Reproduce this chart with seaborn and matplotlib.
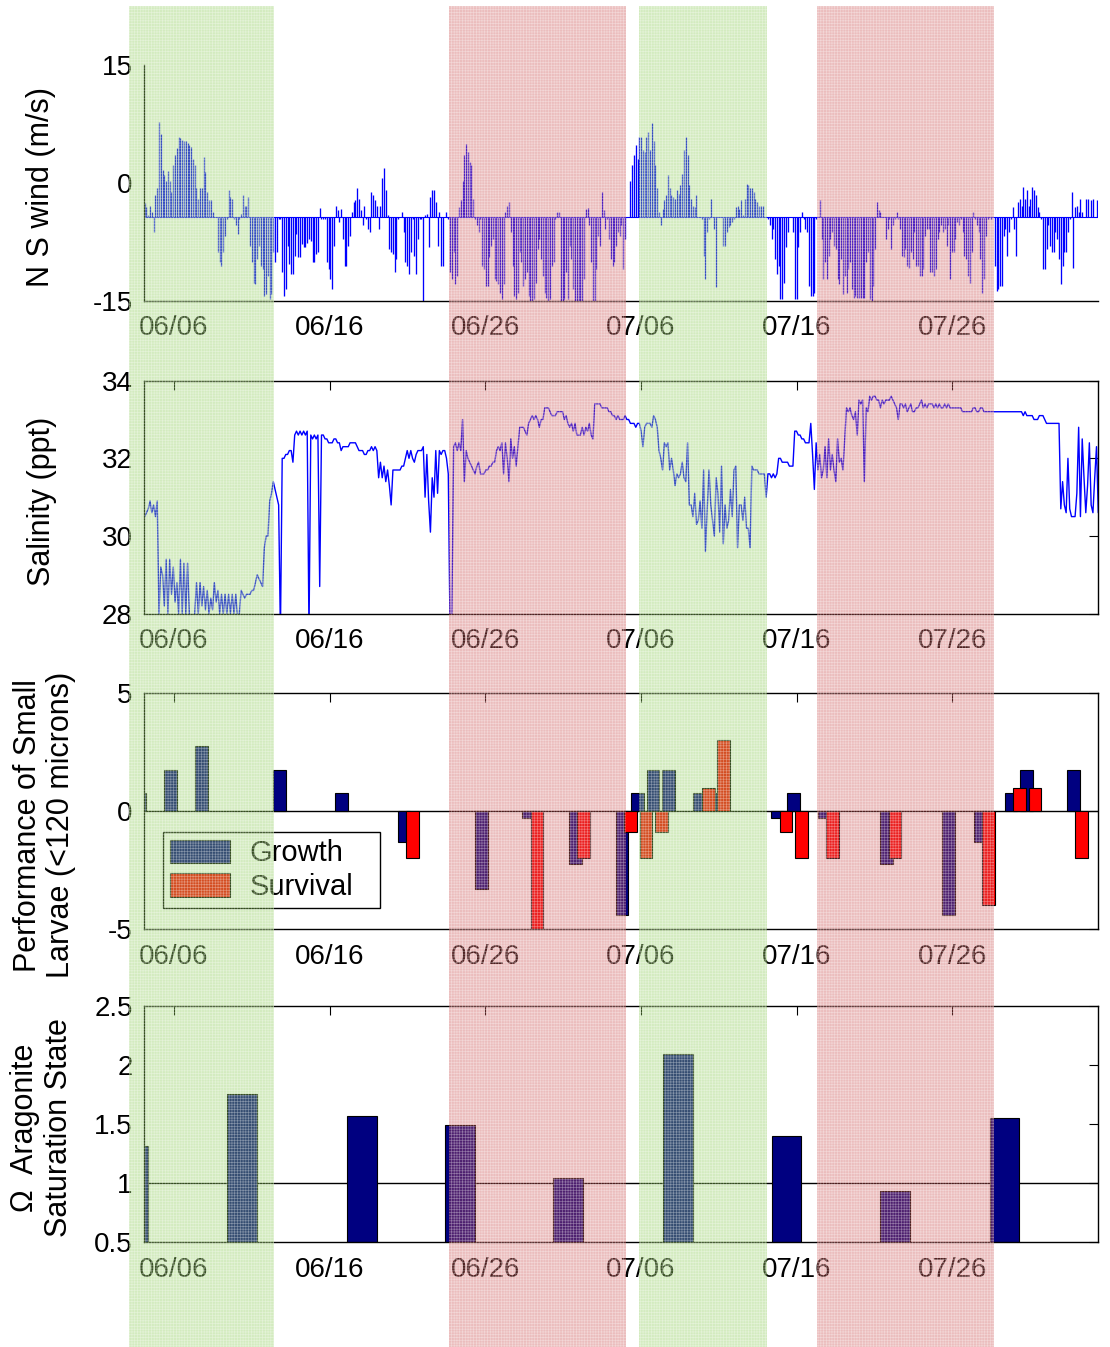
import numpy as np
import pandas as pd
import matplotlib
matplotlib.use("Agg")
import matplotlib.pyplot as plt
import matplotlib.dates as mdates
from matplotlib.patches import Rectangle
from matplotlib.transforms import blended_transform_factory
from matplotlib.legend_handler import HandlerPatch
import seaborn as sns

sns.set_theme(style="white")
plt.rcParams["font.family"] = ["Liberation Sans", "DejaVu Sans"]
plt.rcParams["axes.unicode_minus"] = False
plt.rcParams["hatch.linewidth"] = 0.45

# ---------------------------------------------------------------- data
# North-south wind (m/s), regular samples over the record
wind_ms = [
    -2.6, -3.1, -4.1, -2.9, -3.7, -6.3, -1.6, -0.7, 7.8, 6.2,
    1.7, 1.0, 0.3, 1.5, 0.3, -1.2, 2.3, 3.6, 4.5, 5.9,
    5.7, 5.5, 5.4, 5.3, 5.1, 4.8, 4.6, 3.1, 2.3, -0.7,
    -2.0, -0.6, -0.7, 3.3, 1.4, -1.1, -2.2, -2.2, -3.7, -4.3,
    -4.3, -8.8, -10.1, -10.6, -8.8, -6.7, -4.6, -0.9, -1.8, -2.0,
    -4.6, -5.4, -6.5, -4.6, -3.9, -1.6, -2.9, -2.9, -1.8, -8.0,
    -10.1, -12.7, -12.9, -9.7, -8.0, -10.6, -11.0, -14.4, -14.2, -11.8,
    -14.8, -14.2, -8.8, -10.1, -8.8, -4.6, -4.6, -11.4, -14.4, -13.5,
    -8.0, -10.3, -11.6, -11.6, -9.3, -6.5, -9.5, -9.5, -7.8, -8.2,
    -8.2, -7.6, -7.1, -7.4, -10.1, -10.1, -9.1, -8.8, -3.2, -4.6,
    -4.6, -4.6, -10.1, -11.0, -12.3, -13.5, -8.0, -2.9, -3.5, -5.0,
    -3.3, -7.1, -10.6, -10.6, -8.0, -6.7, -3.7, -2.4, -2.2, -0.7,
    -2.0, -3.5, -5.4, -2.9, -4.6, -5.9, -6.3, -1.1, -1.6, -2.2,
    -2.9, -5.9, -2.9, 0.6, 1.9, -0.9, -4.1, -8.4, -8.8, -9.1,
    -11.4, -9.7, -4.6, -4.4, -3.7, -6.3, -10.1, -10.6, -11.6, -8.8,
    -4.6, -9.3, -11.6, -7.1, -4.6, -4.6, -15.0, -4.1, -3.9, -8.2,
    -1.8, -0.9, -0.9, -2.4, -8.0, -3.7, -10.6, -10.6, -4.4, -3.7,
    -4.6, -11.4, -12.3, -8.8, -12.9, -11.8, -3.1, -2.2, 0.3, 3.5,
    5.0, 3.9, 2.7, 2.3, -2.0, -4.6, -5.4, -6.3, -4.6, -10.6,
    -11.0, -13.1, -13.1, -9.5, -8.0, -7.1, -12.3, -12.5, -12.9, -14.0,
    -14.8, -12.9, -3.7, -2.9, -2.4, -6.3, -10.6, -14.4, -14.8, -14.0,
    -8.8, -10.1, -13.1, -12.3, -11.4, -14.4, -15.0, -15.0, -14.8, -12.7,
    -8.4, -7.1, -9.7, -11.8, -14.0, -14.6, -15.0, -14.8, -10.6, -10.1,
    -4.6, -3.7, -3.7,
    -15.0, -15.0, -14.8, -11.4, -14.8, -8.0, -9.7, -13.5, -15.0, -15.0,
    -15.0, -15.0, -15.0, -12.3, -3.3, -3.2, -5.4, -10.1, -15.0, -15.0,
    -11.0, -6.7, -8.0, -1.2, -3.5, -5.9, -4.6, -7.1, -9.7, -10.6,
    -10.1, -8.0, -6.3, -6.7, -5.4, -11.0, -7.1, -4.4, -4.4, 0.3,
    2.3, 3.5, 4.8, 3.1, 5.9, 5.9, 4.2, 4.0, 5.9, 6.5,
    4.2, 7.6, 5.3, 2.3, -0.7, -3.7, -5.4, -3.3, -2.2, -1.6,
    1.0, -0.7, -1.6, -1.8, -2.0, -0.9, -1.4, -0.3, 1.2, 4.2,
    5.9, 3.5, -0.3, -2.0, -2.9, -3.1, -1.5, -4.4, -4.4, -4.6,
    -9.3, -12.3, -6.3, -4.6, -2.0, -4.4, -5.9, -13.3, -4.4, -4.4,
    -4.4, -8.0, -8.0, -6.3, -5.6, -5.4, -5.0, -4.6, -3.1, -2.9,
    -3.3, -2.2, -4.1, -2.0, -0.1, -0.3, -0.7, -0.7, -1.2, -2.0,
    -2.4, -2.9, -2.9, -2.9, -4.4, -4.4, -4.6, -5.4, -7.1, -5.9,
    -9.7, -11.6, -10.6, -14.8, -14.8, -12.7, -8.2, -6.3, -4.4, -4.4,
    -6.3, -14.8, -14.8, -8.2, -6.3, -3.7, -4.6, -5.9, -6.3, -13.1,
    -14.4, -14.4, -14.0, -4.6, -4.4, -2.2, -7.1, -12.3, -10.1, -12.3,
    -9.3, -7.1, -6.3, -8.0, -8.4, -12.3, -12.9, -9.7, -14.2, -11.8,
    -14.0, -11.0, -10.1, -13.5, -14.6, -14.4, -14.6, -14.6, -14.6, -14.6,
    -14.6, -10.1, -8.8, -14.8, -15.0, -13.1, -8.4, -2.4, -3.5, -3.7,
    -4.4, -4.4, -7.1, -5.9, -4.6, -8.4, -5.4, -4.6, -3.7, -4.6,
    -5.9, -9.3, -9.5, -8.4, -10.6, -10.8, -8.8, -9.7, -6.3, -10.6,
    -10.6, -11.8, -11.8, -11.0, -6.7, -5.9, -5.9, -11.4, -11.4, -11.8,
    -11.0, -7.1, -6.3, -5.4, -6.3, -5.9, -8.0, -5.4, -12.3, -8.8,
    -8.8, -7.1, -5.0, -5.4, -4.6, -6.3, -9.3, -9.7, -11.8, -12.7,
    -8.8, -3.7, -4.6, -5.4, -6.3, -9.7, -14.0, -12.3, -6.7, -4.6,
    -4.4, -4.6, -4.4, -10.6, -13.8, -13.5, -13.1, -13.1, -6.7, -5.9,
    -9.3, -6.3, -4.6, -3.1, -5.9, -9.3, -2.4, -2.0, -2.9, -0.5,
    -2.0, -0.9, -2.9, -2.0, -0.5, -0.9, -1.6, -3.1, -3.7, -4.6,
    -11.0, -11.0, -8.4, -5.4, -8.0, -8.8, -8.8, -6.3, -7.1, -9.7,
    -12.9, -10.6, -8.8, -8.8, -6.3, -4.6, -1.2, -10.8, -3.1, -2.9,
    -3.7, -2.0, -3.7, -4.4, -2.0, -2.0, -4.4, -2.2, -2.0, -4.4,
    -2.2, -4.4,
]

# Salinity (ppt) on the same sampling grid
salinity_ppt = [
    30.5, 30.6, 30.7, 30.9, 30.6, 30.8, 30.5, 30.9, 28.0, 29.2,
    29.0, 28.2, 29.4, 28.0, 29.4, 28.5, 29.2, 28.3, 28.8, 28.0,
    29.4, 28.0, 29.3, 28.0, 29.3, 28.0, 27.8, 27.8, 28.0, 28.8,
    28.0, 28.8, 28.2, 28.7, 28.1, 28.6, 28.0, 28.4, 28.1, 28.8,
    28.3, 28.6, 28.0, 28.5, 28.0, 28.5, 28.0, 28.5, 28.0, 28.5,
    28.0, 28.5, 27.9, 28.0, 28.6, 28.5, 28.4, 28.5, 28.5, 28.5,
    28.6, 28.6, 28.8, 29.0, 28.9, 28.8, 28.7, 29.7, 30.0, 30.0,
    30.9, 31.1, 31.4, 31.2, 31.0, 30.8, 27.5, 32.0, 32.0, 32.1,
    32.1, 32.2, 32.2, 31.9, 32.6, 32.7, 32.6, 32.7, 32.6, 32.7,
    32.6, 32.7, 27.5, 32.6, 32.5, 32.6, 32.5, 32.6, 28.7, 32.6,
    32.6, 32.5, 32.5, 32.4, 32.4, 32.4, 32.5, 32.5, 32.4, 32.4,
    32.2, 32.3, 32.3, 32.3, 32.3, 32.4, 32.4, 32.4, 32.4, 32.3,
    32.2, 32.2, 32.2, 32.1, 32.1, 32.2, 32.2, 32.3, 32.2, 32.3,
    32.2, 31.5, 31.9, 31.5, 31.8, 31.4, 31.7, 31.3, 30.8, 31.7,
    31.7, 31.7, 31.7, 31.7, 31.8, 31.8, 32.0, 32.2, 32.0, 32.2,
    32.0, 31.9, 32.1, 32.2, 32.2, 32.2, 32.3, 31.0, 32.1, 30.9,
    30.1, 31.5, 31.0, 32.2, 31.1, 32.2, 32.1, 32.2, 32.2, 32.0,
    31.6, 27.5, 28.0, 32.3, 32.4, 32.2, 32.4, 32.2, 33.0, 31.4,
    32.2, 32.0, 31.9, 31.8, 31.7, 31.6, 31.8, 31.9, 31.6, 31.6,
    31.6, 31.7, 31.7, 31.8, 31.8, 31.9, 31.9, 32.2, 32.3, 32.2,
    32.4, 31.6, 32.4, 32.0, 31.4, 32.5, 32.0, 32.3, 31.8, 32.3,
    32.8, 32.8, 32.8, 32.7, 32.6, 32.9, 33.0, 33.1, 33.0, 33.1,
    33.0, 32.8, 33.0, 33.0, 33.3, 33.3, 33.3, 33.2, 33.1, 33.1,
    33.1, 33.2, 33.2,
    33.2, 33.2, 33.0, 33.1, 32.9, 32.8, 32.9, 32.7, 32.9, 32.6,
    32.6, 32.6, 32.8, 32.6, 32.8, 32.7, 32.9, 32.6, 32.5, 33.4,
    33.4, 33.4, 33.4, 33.3, 33.3, 33.3, 33.3, 33.2, 33.2, 33.1,
    33.1, 33.0, 33.1, 33.0, 33.0, 33.0, 33.1, 33.0, 33.0, 32.9,
    32.9, 32.9, 32.8, 32.9, 32.9, 32.7, 32.3, 32.8, 32.9, 32.9,
    32.9, 32.8, 33.1, 33.0, 32.8, 32.2, 32.0, 31.7, 32.4, 32.3,
    32.4, 31.7, 32.0, 31.7, 31.3, 31.6, 31.5, 31.6, 31.9, 31.5,
    31.4, 32.4, 30.8, 30.8, 30.5, 31.1, 30.3, 30.4, 30.9, 30.2,
    31.7, 29.6, 30.7, 31.7, 30.8, 30.4, 30.0, 31.5, 31.1, 30.1,
    31.8, 29.8, 30.8, 30.2, 30.4, 31.2, 30.5, 31.7, 31.8, 29.7,
    30.8, 30.8, 30.4, 31.0, 30.2, 30.2, 29.7, 31.8, 31.7, 31.7,
    31.7, 31.6, 31.6, 31.6, 31.6, 31.0, 31.6, 31.6, 31.5, 31.6,
    31.5, 31.6, 32.0, 32.0, 31.9, 31.9, 31.9, 31.9, 31.8, 31.8,
    31.8, 32.7, 32.7, 32.6, 32.6, 32.5, 32.5, 32.4, 32.4, 32.4,
    32.9, 32.1, 31.2, 32.4, 31.7, 32.1, 31.5, 31.7, 32.3, 31.5,
    32.5, 31.7, 32.1, 31.7, 31.4, 32.5, 31.9, 32.0, 31.7, 32.5,
    33.3, 33.2, 33.3, 33.1, 33.0, 33.2, 32.6, 33.5, 33.4, 33.5,
    31.4, 33.3, 33.2, 33.6, 33.5, 33.6, 33.6, 33.5, 33.5, 33.3,
    33.5, 33.4, 33.5, 33.5, 33.5, 33.6, 33.5, 33.4, 33.3, 33.0,
    33.4, 33.4, 33.3, 33.4, 33.2, 33.3, 33.4, 33.2, 33.2, 33.3,
    33.3, 33.4, 33.5, 33.3, 33.4, 33.3, 33.4, 33.4, 33.4, 33.3,
    33.4, 33.3, 33.4, 33.3, 33.3, 33.4, 33.3, 33.4, 33.3, 33.3,
    33.3, 33.3, 33.3, 33.3, 33.3, 33.2, 33.2, 33.2, 33.2, 33.2,
    33.2, 33.3, 33.3, 33.2, 33.2, 33.3, 33.3, 33.2, 33.2, 33.2,
    33.2, 33.2, 33.2, 33.2, 33.2, 33.2, 33.2, 33.2, 33.2, 33.2,
    33.2, 33.2, 33.2, 33.2, 33.2, 33.2, 33.2, 33.2, 33.2, 33.1,
    33.2, 33.1, 33.1, 33.1, 33.1, 33.0, 33.0, 33.0, 33.1, 33.1,
    33.1, 33.0, 32.9, 32.9, 32.9, 32.9, 32.9, 32.9, 32.9, 32.9,
    30.7, 31.4, 30.8, 30.6, 32.0, 30.7, 30.5, 30.5, 30.5, 31.1,
    32.8, 30.5, 32.5, 31.5, 30.6, 31.3, 32.4, 30.8, 30.6, 31.5,
    32.3, 30.6,
]

record_start = "2011-06-04 02:44"
record_end = "2011-08-04 09:00"

# Larval performance experiments (daily samples)
perf_dates = [
    "2011-06-04 01:00", "2011-06-06 01:00", "2011-06-08 01:00", "2011-06-13 01:00",
    "2011-06-17 01:00", "2011-06-21 01:00", "2011-06-26 01:00", "2011-06-29 01:00",
    "2011-07-02 01:00", "2011-07-05 01:00", "2011-07-06 01:00", "2011-07-07 01:00",
    "2011-07-08 01:00", "2011-07-10 01:00", "2011-07-11 01:00", "2011-07-15 01:00",
    "2011-07-16 01:00", "2011-07-18 01:00", "2011-07-22 01:00", "2011-07-26 01:00",
    "2011-07-28 01:00", "2011-07-30 01:00", "2011-07-31 01:00", "2011-08-03 01:00",
]
growth = [
    0.75, 1.75, 2.75, 1.75, 0.75, -1.3, -3.3, -0.3,
    -2.25, -4.4, 0.75, 1.75, 1.75, 0.75, 0.75, -0.3,
    0.75, -0.3, -2.25, -4.4, -1.3, 0.75, 1.75, 1.75,
]
survival = [
    np.nan, np.nan, np.nan, np.nan, np.nan, -2.0, np.nan, -5.0,
    -2.0, -0.9, -2.0, -0.9, np.nan, 1.0, 3.0, -0.9,
    -2.0, -2.0, -2.0, np.nan, -4.0, 1.0, 1.0, -2.0,
]

# Weekly aragonite saturation state
omega_dates = [
    "2011-06-03 09:30", "2011-06-10 09:00", "2011-06-18 02:00",
    "2011-06-24 09:00", "2011-07-01 07:00", "2011-07-08 09:00",
    "2011-07-15 08:30", "2011-07-22 07:30", "2011-07-29 08:30",
]
omega_arag = [1.31, 1.75, 1.565, 1.49, 1.04, 2.09, 1.40, 0.93, 1.55]

# Upwelling (green) and relaxation (red) periods
period_start = ["2011-06-03 02:40", "2011-06-23 16:00", "2011-07-05 21:00", "2011-07-17 08:00"]
period_end = ["2011-06-12 10:00", "2011-07-05 01:00", "2011-07-14 02:00", "2011-07-28 16:20"]
period_kind = ["upwelling", "relaxation", "upwelling", "relaxation"]

tick_dates = ["2011-06-06", "2011-06-16", "2011-06-26", "2011-07-06", "2011-07-16", "2011-07-26"]

# ---------------------------------------------------------------- styling
LINE_BLUE = "#0000ff"
NAVY = "#000080"
RED = "#ff0000"
WIND_BASE = -4.3
PAIR_OFFSET = 0.27      # days between growth / survival bar centres and the sample time
PERF_W = 0.82
OMEGA_W = 1.9
SHADE = {"upwelling": (0.55, 0.80, 0.35), "relaxation": (0.80, 0.32, 0.32)}

def to_num(values):
    return mdates.date2num(pd.to_datetime(values))

wind_x = to_num(pd.date_range(record_start, record_end, periods=len(wind_ms)))
sal_x = to_num(pd.date_range(record_start, record_end, periods=len(salinity_ppt)))
perf_x = to_num(perf_dates)
omega_x = to_num(omega_dates)
growth = np.array(growth)
survival = np.array(survival)
xlim = to_num(["2011-06-04 01:15", "2011-08-04 09:05"])

fig = plt.figure(figsize=(11.10, 13.47), dpi=100)
L, W = 0.1295, 0.860
ax_wind = fig.add_axes([L, 0.7768, W, 0.1748])
ax_sal = fig.add_axes([L, 0.5444, W, 0.1730])
ax_perf = fig.add_axes([L, 0.3103, W, 0.1750])
ax_omega = fig.add_axes([L, 0.0780, W, 0.1752])

# wind stick plot
ax_wind.vlines(wind_x, WIND_BASE, wind_ms, colors=LINE_BLUE, linewidth=0.95)
ax_wind.hlines(WIND_BASE, wind_x[0], wind_x[-1], colors=LINE_BLUE, linewidth=0.8)
ax_wind.set_ylim(-15, 15)
ax_wind.set_yticks([-15, 0, 15])

# salinity trace
sns.lineplot(x=sal_x, y=salinity_ppt, ax=ax_sal, color=LINE_BLUE, linewidth=1.0,
             estimator=None, sort=False)
ax_sal.set_ylim(28, 34)
ax_sal.set_yticks([28, 30, 32, 34])

# grouped growth / survival bars
g_bars = ax_perf.bar(perf_x - PAIR_OFFSET, growth, width=PERF_W, color=NAVY,
                     edgecolor="black", linewidth=0.8, label="Growth")
has_surv = ~np.isnan(survival)
s_bars = ax_perf.bar(perf_x[has_surv] + PAIR_OFFSET, survival[has_surv], width=PERF_W,
                     color=RED, edgecolor="black", linewidth=0.8, label="Survival")
ax_perf.axhline(0, color="black", linewidth=1.0, zorder=0.5)
ax_perf.set_ylim(-5, 5)
ax_perf.set_yticks([-5, 0, 5])

# aragonite saturation
ax_omega.bar(omega_x, omega_arag, width=OMEGA_W, color=NAVY, edgecolor="black", linewidth=0.8)
ax_omega.axhline(1, color="black", linewidth=1.0, zorder=0.5)
ax_omega.set_ylim(0.5, 2.5)
ax_omega.set_yticks([0.5, 1, 1.5, 2, 2.5])
ax_omega.set_yticklabels(["0.5", "1", "1.5", "2", "2.5"])

for ax in (ax_wind, ax_sal, ax_perf, ax_omega):
    ax.set_xlim(*xlim)
    ax.set_xticks(to_num(tick_dates))
    ax.xaxis.set_major_formatter(mdates.DateFormatter("%m/%d"))
    ax.set_facecolor("white")
    ax.grid(False)
    ax.tick_params(axis="both", which="major", direction="in", length=6.5, width=0.8,
                   labelsize=20, colors="black")
    ax.tick_params(axis="x", pad=10.5)
    ax.tick_params(axis="y", pad=8)
    for sp in ax.spines.values():
        sp.set_color("black")
        sp.set_linewidth(1.0)
    if ax is ax_wind:
        ax.spines["top"].set_visible(False)
        ax.spines["right"].set_visible(False)
    else:
        ax.tick_params(top=True, right=True, labeltop=False, labelright=False)

# axis titles
labels = [
    (ax_wind, "N S wind (m/s)", -0.1076, 0.483),
    (ax_sal, "Salinity (ppt)", -0.1065, 0.484),
    (ax_perf, "Performance of Small\nLarvae (<120 microns)", -0.1040, 0.441),
    (ax_omega, "\u03a9  Aragonite\nSaturation State", -0.1065, 0.483),
]
for ax, text, lx, ly in labels:
    ax.set_ylabel(text, fontsize=22, va="center", ha="center", linespacing=1.15, color="black")
    ax.yaxis.set_label_coords(lx, ly)

leg = ax_perf.legend(
    [g_bars, s_bars], ["Growth", "Survival"],
    loc="upper left", bbox_to_anchor=(0.0202, 0.0, 0.2273, 0.4115), mode="expand",
    borderaxespad=0.0, fontsize=21, frameon=True, fancybox=False, framealpha=1.0,
    edgecolor="black", handlelength=2.06, handleheight=0.86, handletextpad=0.65,
    borderpad=0.25, labelspacing=0.2,
    handler_map={type(g_bars[0]): HandlerPatch(xpad=0.41)},
)
leg.get_frame().set_linewidth(1.0)
for t in leg.get_texts():
    t.set_color("black")

# shaded periods spanning the whole stack of panels
trans = blended_transform_factory(ax_omega.transData, fig.transFigure)
for start, end, kind in zip(to_num(period_start), to_num(period_end), period_kind):
    fig.add_artist(Rectangle((start, 0.0), end - start, 0.9955, transform=trans,
                             facecolor=SHADE[kind], alpha=0.38, edgecolor="none",
                             linewidth=0, zorder=10))
    fig.add_artist(Rectangle((start, 0.0), end - start, 0.9955, transform=trans,
                             facecolor="none", edgecolor=(1, 1, 1, 0.4), hatch="++++++",
                             linewidth=0, zorder=11))

fig.savefig("out.png", dpi=100, facecolor="white")
